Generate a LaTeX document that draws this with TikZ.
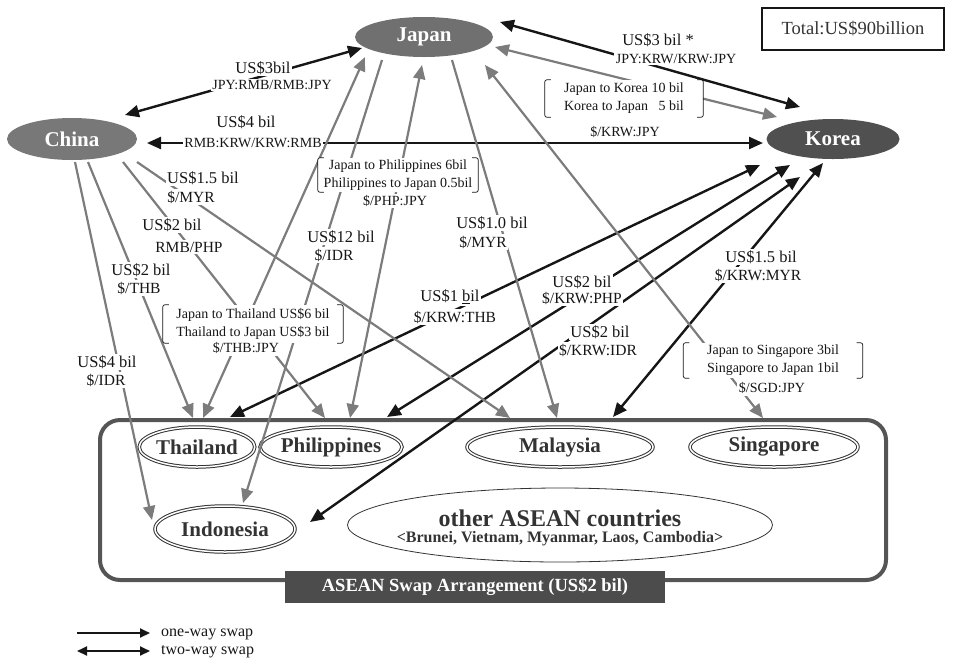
\documentclass[tikz,border=0pt]{standalone}
\usepackage{fontspec}
\setmainfont{Liberation Serif}
\usetikzlibrary{shapes.geometric,arrows.meta,calc}
\definecolor{jgray}{HTML}{707070}
\definecolor{cgray}{HTML}{787878}
\definecolor{kgray}{HTML}{505050}
\definecolor{lgray}{HTML}{7C7C7C}
\definecolor{ink}{HTML}{161616}
\definecolor{boxgray}{HTML}{555555}
\definecolor{txt}{HTML}{333333}
\newcommand\fsz[2]{\fontsize{#1}{#2}\selectfont}
\begin{document}
\begin{tikzpicture}[x=1pt,y=-1pt,
  main/.style={ellipse, fill=#1, inner sep=0pt, text=white, font=\bfseries\fsz{21}{24}},
  asn/.style={ellipse, draw=txt, double=white, double distance=1.5pt, line width=1pt,
              fill=white, inner sep=0pt, minimum height=40pt, text=txt, font=\bfseries\fsz{21}{24}},
  tipb/.tip={Triangle[length=14pt,width=12pt]},
  bk/.style={draw=ink, line width=2.4pt, -tipb},
  bktwo/.style={draw=ink, line width=2.4pt, tipb-tipb},
  gy/.style={draw=lgray, line width=2.2pt, -tipb},
  gytwo/.style={draw=lgray, line width=2.2pt, tipb-tipb},
  lab/.style={fill=white, inner sep=1.5pt, text=ink, font=\fsz{16.5}{19}},
  sub/.style={fill=white, inner sep=1.5pt, text=ink, font=\fsz{15.5}{18}},
  tin/.style={fill=white, inner sep=1.5pt, text=ink, font=\fsz{14}{16}},
  brk/.style={fill=white, inner sep=0pt, text=ink, font=\fsz{14}{18}},
  brline/.style={draw=ink, line width=0.7pt, rounded corners=2pt},
]
\useasboundingbox (0,0) rectangle (953,665);

% ---- container and nodes
\node[draw=boxgray, line width=4pt, rounded corners=20pt, minimum width=786pt, minimum height=160pt] (asean) at (493,500) {};
\node[fill=boxgray!90!black, text=white, font=\bfseries\fsz{18.5}{21}, minimum width=380pt, minimum height=32pt] (aslabel) at (475,587) {ASEAN Swap Arrangement (US\$2 bil)};

\node[main=jgray, minimum width=138pt, minimum height=40pt] (japan) at (424,37) {Japan};
\node[main=cgray, minimum width=130pt, minimum height=42pt] (china) at (72,139) {China};
\node[main=kgray, minimum width=133pt, minimum height=40pt] (korea) at (833,139) {Korea};
\node[draw=ink, line width=1.8pt, minimum width=182pt, minimum height=42pt, font=\fsz{18.5}{21}, text=txt] (total) at (853,29) {Total:US\$90billion};

\node[asn, minimum width=113pt] (thailand) at (197,447) {Thailand};
\node[asn, minimum width=142pt] (philippines) at (331,447) {Philippines};
\node[asn, minimum width=186pt] (malaysia) at (560,447) {Malaysia};
\node[asn, minimum width=168pt] (singapore) at (774,447) {Singapore};
\node[asn, minimum width=140pt, minimum height=46pt] (indonesia) at (225,529) {Indonesia};
\node[ellipse, draw=txt, line width=0.8pt, minimum width=425pt, minimum height=74pt, inner sep=0pt] (others) at (560,525) {};
\node[inner sep=0pt, text=txt, font=\bfseries\fsz{24}{26}] (othersa) at (560,518) {other ASEAN countries};
\node[inner sep=0pt, text=txt, font=\bfseries\fsz{16}{18}] (othersb) at (560,539) {<Brunei, Vietnam, Myanmar, Laos, Cambodia>};

% ---- black connectors
\draw[bktwo] ($(china)+(53,-24)$) -- ($(japan)+(-62,11)$);
\draw[bktwo] ($(china)+(75,4)$) -- ($(korea)+(-70,4)$);
\draw[bktwo] ($(japan)+(76,-15)$) -- ($(korea)+(-33,-32)$);
\draw[bktwo] ($(korea)+(-73,26)$) -- ($(thailand)+(33,-30)$);
\draw[bktwo] ($(korea)+(-43,26)$) -- ($(philippines)+(56,-30)$);
\draw[bktwo] ($(korea)+(-33,38)$) -- ($(indonesia)+(85,-7)$);
\draw[bktwo] ($(korea)+(-10,24)$) -- ($(malaysia)+(53,-30)$);

% ---- gray connectors
\draw[gytwo] ($(japan)+(71,10)$) -- ($(korea)+(-56,-22)$);
\draw[gytwo] ($(japan)+(-59,20)$) -- ($(thailand)+(6,-29)$);
\draw[gy] ($(japan)+(-42,23)$) -- ($(indonesia)+(18,-26)$);
\draw[gytwo] ($(japan)+(-2,28)$) -- ($(philippines)+(19,-29)$);
\draw[gy] ($(japan)+(28,23)$) -- ($(malaysia)+(-3,-29)$);
\draw[gytwo] ($(japan)+(61,28)$) -- ($(singapore)+(-11,-29)$);
\draw[gy] ($(china)+(3,23)$) -- ($(indonesia)+(-73,-9)$);
\draw[gy] ($(china)+(16,23)$) -- ($(thailand)+(-4,-29)$);
\draw[gy] ($(china)+(51,23)$) -- ($(philippines)+(-6,-29)$);
\draw[gy] ($(china)+(65,23)$) -- ($(malaysia)+(-50,-29)$);

% ---- labels
\node[lab] (ljc1) at (263,68) {US\$3bil};
\node[tin] (ljc2) at (272,85) {JPY:RMB/RMB:JPY};
\node[lab] (lck1) at (246,122) {US\$4 bil};
\node[tin] (lck2) at (253,143) {RMB:KRW/KRW:RMB};
\node[lab] (ljk1) at (658,40) {US\$3 bil *};
\node[tin] (ljk2) at (676,59) {JPY:KRW/KRW:JPY};

\node[lab] (lcm1) at (203,178) {US\$1.5 bil};
\node[sub] (lcm2) at (191,197) {\$/MYR};
\node[lab] (lcp1) at (172,225) {US\$2 bil};
\node[sub] (lcp2) at (189,247) {RMB/PHP};
\node[lab] (lji1) at (341,237) {US\$12 bil};
\node[sub] (lji2) at (334,255) {\$/IDR};
\node[lab] (ljm1) at (492,223) {US\$1.0 bil};
\node[sub] (ljm2) at (483,242) {\$/MYR};
\node[lab] (lct1) at (141,270) {US\$2 bil};
\node[sub] (lct2) at (139,288) {\$/THB};
\node[lab] (lci1) at (107,362) {US\$4 bil};
\node[sub] (lci2) at (106,380) {\$/IDR};
\node[lab] (lkt1) at (450,297) {US\$1 \underline{b}il};
\node[sub] (lkt2) at (455,317) {\$/KRW:THB};
\node[lab] (lkp1) at (582,282) {US\$2 bil};
\node[sub] (lkp2) at (582,298) {\$/KRW:PHP};
\node[lab] (lki1) at (600,332) {US\$2 bil};
\node[sub] (lki2) at (598,350) {\$/KRW:IDR};
\node[lab] (lkm1) at (761,257) {US\$1.5 bil};
\node[sub] (lkm2) at (758,275) {\$/KRW:MYR};

% ---- bracketed labels
\node[brk, minimum width=158pt, minimum height=37pt, align=left] (bjk) at (624,98.5)
  {Japan to Korea 10 bil\\Korea to Japan \phantom{1}5 bil};
\node[brk, inner sep=1.5pt] (bjk2) at (625,132) {\$/KRW:JPY};
\node[brk, minimum width=160pt, minimum height=34pt, align=center] (bjp) at (398,175)
  {Japan to Philippines 6bil\\Philippines to Japan 0.5bil};
\node[brk, inner sep=1.5pt] (bjp2) at (395,201) {\$/PHP:JPY};
\node[brk, minimum width=180pt, minimum height=38pt, align=center] (bjt) at (253,324)
  {Japan to Thailand US\$6 bil\\Thailand to Japan US\$3 bil};
\node[brk, inner sep=2pt] (bjt2) at (246,348) {\$/THB:JPY};
\node[brk, minimum width=179pt, minimum height=35pt, align=center] (bjs) at (773,360.5)
  {Japan to Singapore 3bil\\Singapore to Japan 1bil};
\node[brk, inner sep=2pt] (bjs2) at (772,388) {\$/SGD:JPY};

\foreach \b in {bjk,bjp,bjt,bjs}{
  \draw[brline] ([xshift=6pt]\b.north west) -- (\b.north west) -- (\b.south west) -- ([xshift=6pt]\b.south west);
  \draw[brline] ([xshift=-6pt]\b.north east) -- (\b.north east) -- (\b.south east) -- ([xshift=-6pt]\b.south east);
}

% ---- legend
\coordinate (la1) at (77,633);
\coordinate (lb1) at (150,633);
\coordinate (la2) at (77,651);
\coordinate (lb2) at (150,651);
\draw[draw=ink, line width=2pt, -{Triangle[length=10pt,width=9pt]}] (la1) -- (lb1);
\draw[draw=ink, line width=2pt, {Triangle[length=10pt,width=9pt]}-{Triangle[length=10pt,width=9pt]}] (la2) -- (lb2);
\node[anchor=west, inner sep=0pt, font=\fsz{16}{18}, text=ink] (leg1) at (161,634) {one-way swap};
\node[anchor=west, inner sep=0pt, font=\fsz{16}{18}, text=ink] (leg2) at (161,652) {two-way swap};
\end{tikzpicture}
\end{document}
